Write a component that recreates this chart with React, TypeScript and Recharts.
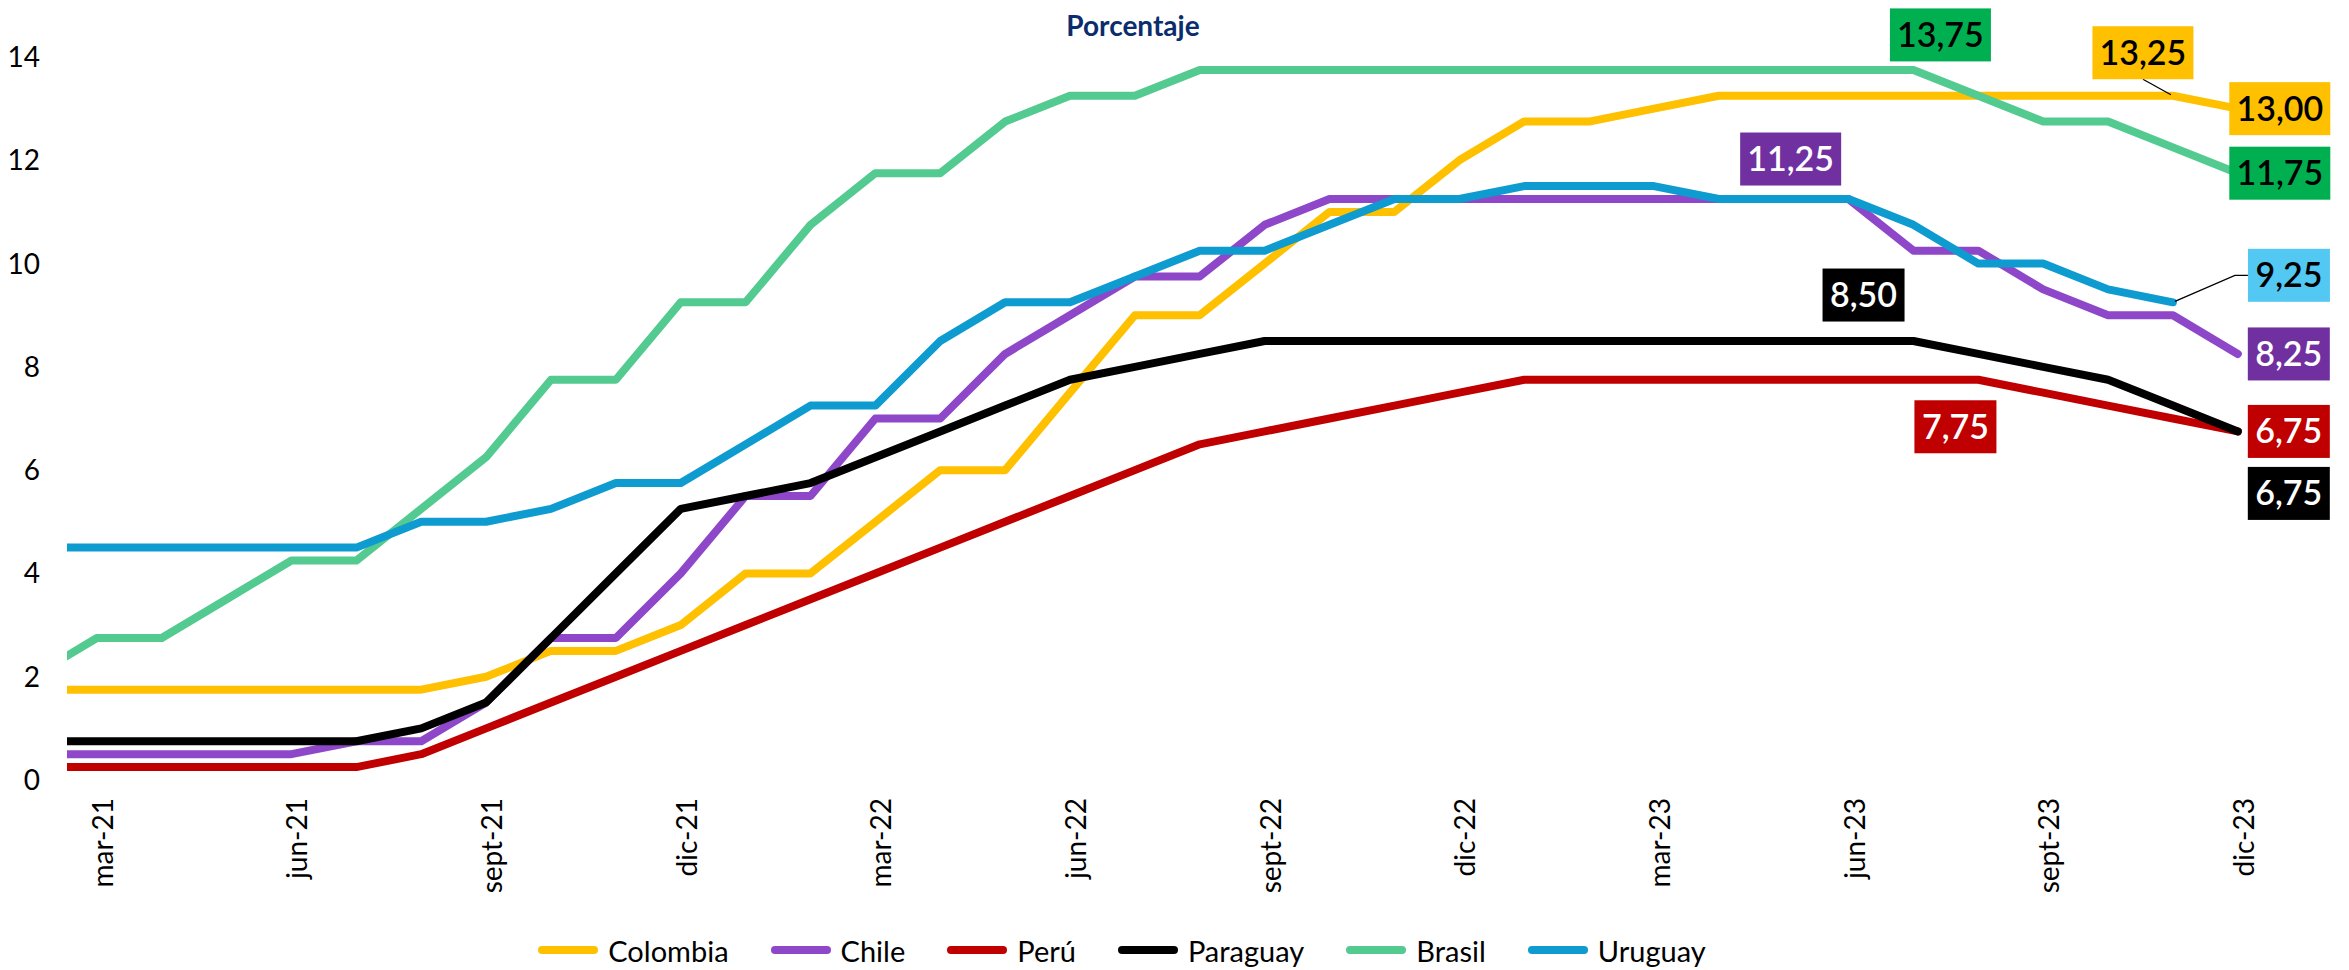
import React from 'react';
import { LineChart, Line, XAxis, YAxis, LabelList } from 'recharts';

// Monthly policy rates, feb-21 .. dic-23 (percent)
const months = [
  'feb-21', 'mar-21', 'abr-21', 'may-21', 'jun-21', 'jul-21', 'ago-21', 'sept-21', 'oct-21', 'nov-21', 'dic-21',
  'ene-22', 'feb-22', 'mar-22', 'abr-22', 'may-22', 'jun-22', 'jul-22', 'ago-22', 'sept-22', 'oct-22', 'nov-22', 'dic-22',
  'ene-23', 'feb-23', 'mar-23', 'abr-23', 'may-23', 'jun-23', 'jul-23', 'ago-23', 'sept-23', 'oct-23', 'nov-23', 'dic-23',
];

const colombia = [
  1.75, 1.75, 1.75, 1.75, 1.75, 1.75, 1.75, 2.0, 2.5, 2.5, 3.0,
  4.0, 4.0, 5.0, 6.0, 6.0, 7.5, 9.0, 9.0, 10.0, 11.0, 11.0, 12.0,
  12.75, 12.75, 13.0, 13.25, 13.25, 13.25, 13.25, 13.25, 13.25, 13.25, 13.25, 13.0,
];
const chile = [
  0.5, 0.5, 0.5, 0.5, 0.5, 0.75, 0.75, 1.5, 2.75, 2.75, 4.0,
  5.5, 5.5, 7.0, 7.0, 8.25, 9.0, 9.75, 9.75, 10.75, 11.25, 11.25, 11.25,
  11.25, 11.25, 11.25, 11.25, 11.25, 11.25, 10.25, 10.25, 9.5, 9.0, 9.0, 8.25,
];
const peru = [
  0.25, 0.25, 0.25, 0.25, 0.25, 0.25, 0.5, 1.0, 1.5, 2.0, 2.5,
  3.0, 3.5, 4.0, 4.5, 5.0, 5.5, 6.0, 6.5, 6.75, 7.0, 7.25, 7.5,
  7.75, 7.75, 7.75, 7.75, 7.75, 7.75, 7.75, 7.75, 7.5, 7.25, 7.0, 6.75,
];
const paraguay = [
  0.75, 0.75, 0.75, 0.75, 0.75, 0.75, 1.0, 1.5, 2.75, 4.0, 5.25,
  5.5, 5.75, 6.25, 6.75, 7.25, 7.75, 8.0, 8.25, 8.5, 8.5, 8.5, 8.5,
  8.5, 8.5, 8.5, 8.5, 8.5, 8.5, 8.5, 8.25, 8.0, 7.75, 7.25, 6.75,
];
const brasil = [
  2.0, 2.75, 2.75, 3.5, 4.25, 4.25, 5.25, 6.25, 7.75, 7.75, 9.25,
  9.25, 10.75, 11.75, 11.75, 12.75, 13.25, 13.25, 13.75, 13.75, 13.75, 13.75, 13.75,
  13.75, 13.75, 13.75, 13.75, 13.75, 13.75, 13.75, 13.25, 12.75, 12.75, 12.25, 11.75,
];
const uruguay = [
  4.5, 4.5, 4.5, 4.5, 4.5, 4.5, 5.0, 5.0, 5.25, 5.75, 5.75,
  6.5, 7.25, 7.25, 8.5, 9.25, 9.25, 9.75, 10.25, 10.25, 10.75, 11.25, 11.25,
  11.5, 11.5, 11.5, 11.25, 11.25, 11.25, 10.75, 10.0, 10.0, 9.5, 9.25, null,
];

const tickMonths = ['mar-21', 'jun-21', 'sept-21', 'dic-21', 'mar-22', 'jun-22', 'sept-22', 'dic-22', 'mar-23', 'jun-23', 'sept-23', 'dic-23'];
const yTicks = [0, 2, 4, 6, 8, 10, 12, 14];

const series = [
  { name: 'Colombia', values: colombia, color: '#FFC000' },
  { name: 'Chile', values: chile, color: '#8E47C8' },
  { name: 'Perú', values: peru, color: '#C00000' },
  { name: 'Paraguay', values: paraguay, color: '#000000' },
  { name: 'Brasil', values: brasil, color: '#53CA90' },
  { name: 'Uruguay', values: uruguay, color: '#0E9BD0' },
];

const data = months.map((mes, i) => {
  const row: Record<string, any> = { idx: i, mes };
  series.forEach((s) => { row[s.name] = s.values[i]; });
  return row;
});

// Value tags: which point each one belongs to, and how it is placed and coloured
const tags = [
  { series: 'Brasil', month: 'jul-23', dx: 27, dy: -35, bg: '#00B050', fg: '#000000' },
  { series: 'Brasil', month: 'dic-23', dx: 42, dy: 0, bg: '#00B050', fg: '#000000' },
  { series: 'Colombia', month: 'nov-23', dx: -30, dy: -43, bg: '#FFC000', fg: '#000000', leader: 'below' },
  { series: 'Colombia', month: 'dic-23', dx: 42, dy: 0, bg: '#FFC000', fg: '#000000' },
  { series: 'Chile', month: 'may-23', dx: 7, dy: -40, bg: '#7030A0', fg: '#FFFFFF' },
  { series: 'Chile', month: 'dic-23', dx: 51, dy: 0, bg: '#7030A0', fg: '#FFFFFF' },
  { series: 'Paraguay', month: 'jun-23', dx: 15, dy: -46, bg: '#000000', fg: '#FFFFFF' },
  { series: 'Paraguay', month: 'dic-23', dx: 51, dy: 62, bg: '#000000', fg: '#FFFFFF' },
  { series: 'Perú', month: 'jul-23', dx: 42, dy: 47, bg: '#C00000', fg: '#FFFFFF' },
  { series: 'Perú', month: 'dic-23', dx: 51, dy: 0, bg: '#C00000', fg: '#FFFFFF' },
  { series: 'Uruguay', month: 'nov-23', dx: 116, dy: -27, bg: '#53C8F3', fg: '#000000', leader: 'side' },
];

const FONT = 'Lato, "Open Sans", sans-serif';
const fmt = (v: number) => v.toFixed(2).replace('.', ',');

const makeTag = (seriesName: string) => (props: any) => {
  const { index, value } = props;
  const vb = props.viewBox || {};
  const x = props.x ?? vb.x;
  const y = props.y ?? vb.y;
  if (value == null || x == null || y == null) return null;
  const tag = tags.find((t) => t.series === seriesName && months.indexOf(t.month) === index);
  if (!tag) return null;
  const text = fmt(Number(value));
  const w = text.length >= 5 ? 101 : 82;
  const h = 53;
  const cx = x + tag.dx;
  const cy = y + tag.dy;
  let leader = null;
  if (tag.leader === 'below') {
    leader = <line x1={cx} y1={cy + h / 2} x2={x - 2} y2={y - 1} stroke="#000" strokeWidth={1.3} />;
  } else if (tag.leader === 'side') {
    leader = (
      <polyline
        points={`${x + 2},${y - 1} ${cx - w / 2 - 13},${cy} ${cx - w / 2},${cy}`}
        fill="none"
        stroke="#000"
        strokeWidth={1.3}
      />
    );
  }
  return (
    <g>
      {leader}
      <rect x={cx - w / 2} y={cy - h / 2} width={w} height={h} fill={tag.bg} />
      <text x={cx} y={cy + 12} textAnchor="middle" fontFamily={FONT} fontSize={34} fontWeight={600} fill={tag.fg}>
        {text}
      </text>
    </g>
  );
};

const MonthTick = (props: any) => {
  const { x, y, payload } = props;
  const px = x + 16;
  const py = y + 18;
  return (
    <text x={px} y={py} transform={`rotate(-90, ${px}, ${py})`} textAnchor="end" fontFamily={FONT} fontSize={28} fill="#000">
      {months[payload.value]}
    </text>
  );
};

export default function App() {
  return (
    <div style={{ position: 'absolute', left: 0, top: 0, width: 2349, height: 970, background: '#fff', overflow: 'hidden' }}>
      <div
        style={{
          position: 'absolute',
          left: 0,
          top: 8,
          width: 2266,
          textAlign: 'center',
          fontFamily: FONT,
          fontSize: 28,
          lineHeight: '34px',
          fontWeight: 700,
          color: '#0B2D6E',
          zIndex: 1,
        }}
      >
        Porcentaje
      </div>
      <LineChart
        width={2349}
        height={970}
        data={data}
        margin={{ top: 57, right: 106, bottom: 90, left: 7 }}
      >
        <XAxis
          dataKey="idx"
          type="number"
          domain={[0.54, 34.08]}
          allowDataOverflow
          ticks={tickMonths.map((m) => months.indexOf(m))}
          tick={<MonthTick />}
          tickLine={false}
          axisLine={false}
          tickSize={0}
          tickMargin={0}
          height={100}
          interval={0}
        />
        <YAxis
          domain={[0, 14]}
          ticks={yTicks}
          tickLine={false}
          axisLine={false}
          tickSize={0}
          tickMargin={27}
          width={60}
          interval={0}
          tick={{ fontFamily: FONT, fontSize: 28, fill: '#000' }}
        />
        {series.map((s) => (
          <Line
            key={s.name}
            type="linear"
            dataKey={s.name}
            stroke={s.color}
            strokeWidth={8}
            strokeLinecap="round"
            strokeLinejoin="round"
            dot={false}
            activeDot={false}
            isAnimationActive={false}
          >
            <LabelList dataKey={s.name} content={makeTag(s.name)} />
          </Line>
        ))}
      </LineChart>
      <div
        style={{
          position: 'absolute',
          left: 0,
          top: 930,
          width: 2244,
          height: 40,
          display: 'flex',
          justifyContent: 'center',
          alignItems: 'center',
          gap: 42,
          fontFamily: FONT,
          fontSize: 29,
          color: '#000',
        }}
      >
        {series.map((s) => (
          <div key={s.name} style={{ display: 'flex', alignItems: 'center' }}>
            <svg width={60} height={12} style={{ marginRight: 10 }}>
              <line x1={4} y1={6} x2={56} y2={6} stroke={s.color} strokeWidth={8} strokeLinecap="round" />
            </svg>
            <span>{s.name}</span>
          </div>
        ))}
      </div>
    </div>
  );
}
